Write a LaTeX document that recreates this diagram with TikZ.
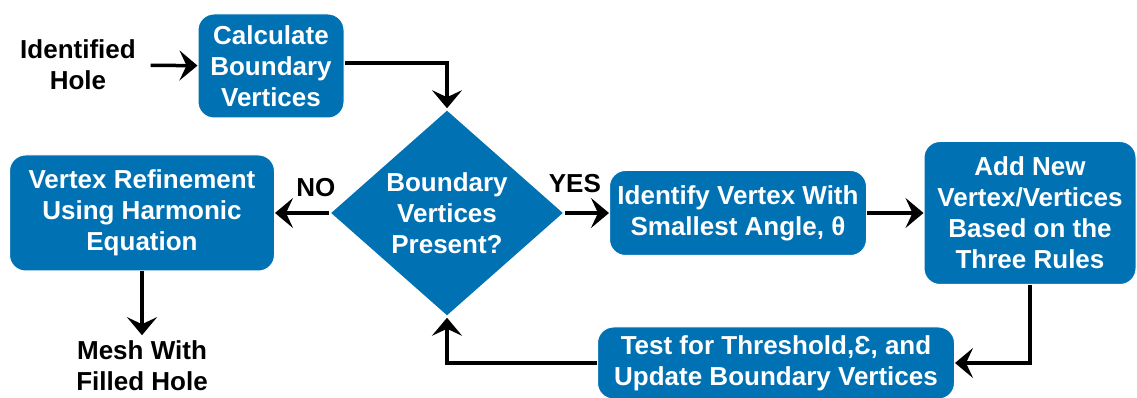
\documentclass[tikz,border=0pt]{standalone}
\usepackage{fontspec}
\setmainfont{Liberation Sans}
\usetikzlibrary{arrows.meta,shapes.geometric,positioning}
\definecolor{flowblue}{RGB}{0,114,180}

\begin{document}
\begin{tikzpicture}
	[x=1pt,y=1pt,->,>={Stealth[length=18pt,width=30pt,inset=7pt]},line width=3.5pt,
		font=\bfseries\fontsize{26}{31}\selectfont,
		box/.style={rectangle,rounded corners=16pt,fill=flowblue,draw=white,line width=1pt,text=white,align=center,inner sep=0pt},
		decision/.style={diamond,fill=flowblue,text=white,align=center,inner sep=0pt},
		plain/.style={align=center,inner sep=0pt}]

	\useasboundingbox (0,0) rectangle (1137,398);

	\node[decision,minimum width=233pt,minimum height=206pt] (dec) at (447,185) {Boundary\\Vertices\\Present?};
	\node[box,minimum width=265pt,minimum height=116pt] [left of=dec,node distance=305pt] (refine) {Vertex Refinement\\Using Harmonic\\Equation};
	\node[box,minimum width=257pt,minimum height=85pt] [right of=dec,node distance=291pt] (ident) {Identify Vertex With\\Smallest Angle, θ};
	\node[box,minimum width=212pt,minimum height=143pt] [right of=ident,node distance=292pt] (add) {Add New\\Vertex/Vertices\\Based on the\\Three Rules};
	\node[box,minimum width=357pt,minimum height=72pt] (test) at (776,35) {Test for Threshold,Ɛ, and\\Update Boundary Vertices};
	\node[box,minimum width=146pt,minimum height=104pt] (calc) at (271,332) {Calculate\\Boundary\\Vertices};
	\node[plain] (hole) at (78,333) {Identified\\Hole};
	\node[plain] [below of=refine,node distance=153pt] (mesh) {Mesh With\\Filled Hole};

	\path[]
	(hole) edge [shorten <=13pt] (calc)
	(dec) edge node[plain,above=14pt,pos=0.24] {NO} (refine)
	(dec) edge node[plain,above=18pt,pos=0.22] {YES} (ident)
	(ident) edge (add)
	(refine) edge [shorten >=4pt] (mesh)
	;
	\draw (calc.east |- 0,335) -| (dec.north);
	\draw (add.south) |- (test.east);
	\draw (test.west) -| (dec.south);

\end{tikzpicture}
\end{document}
